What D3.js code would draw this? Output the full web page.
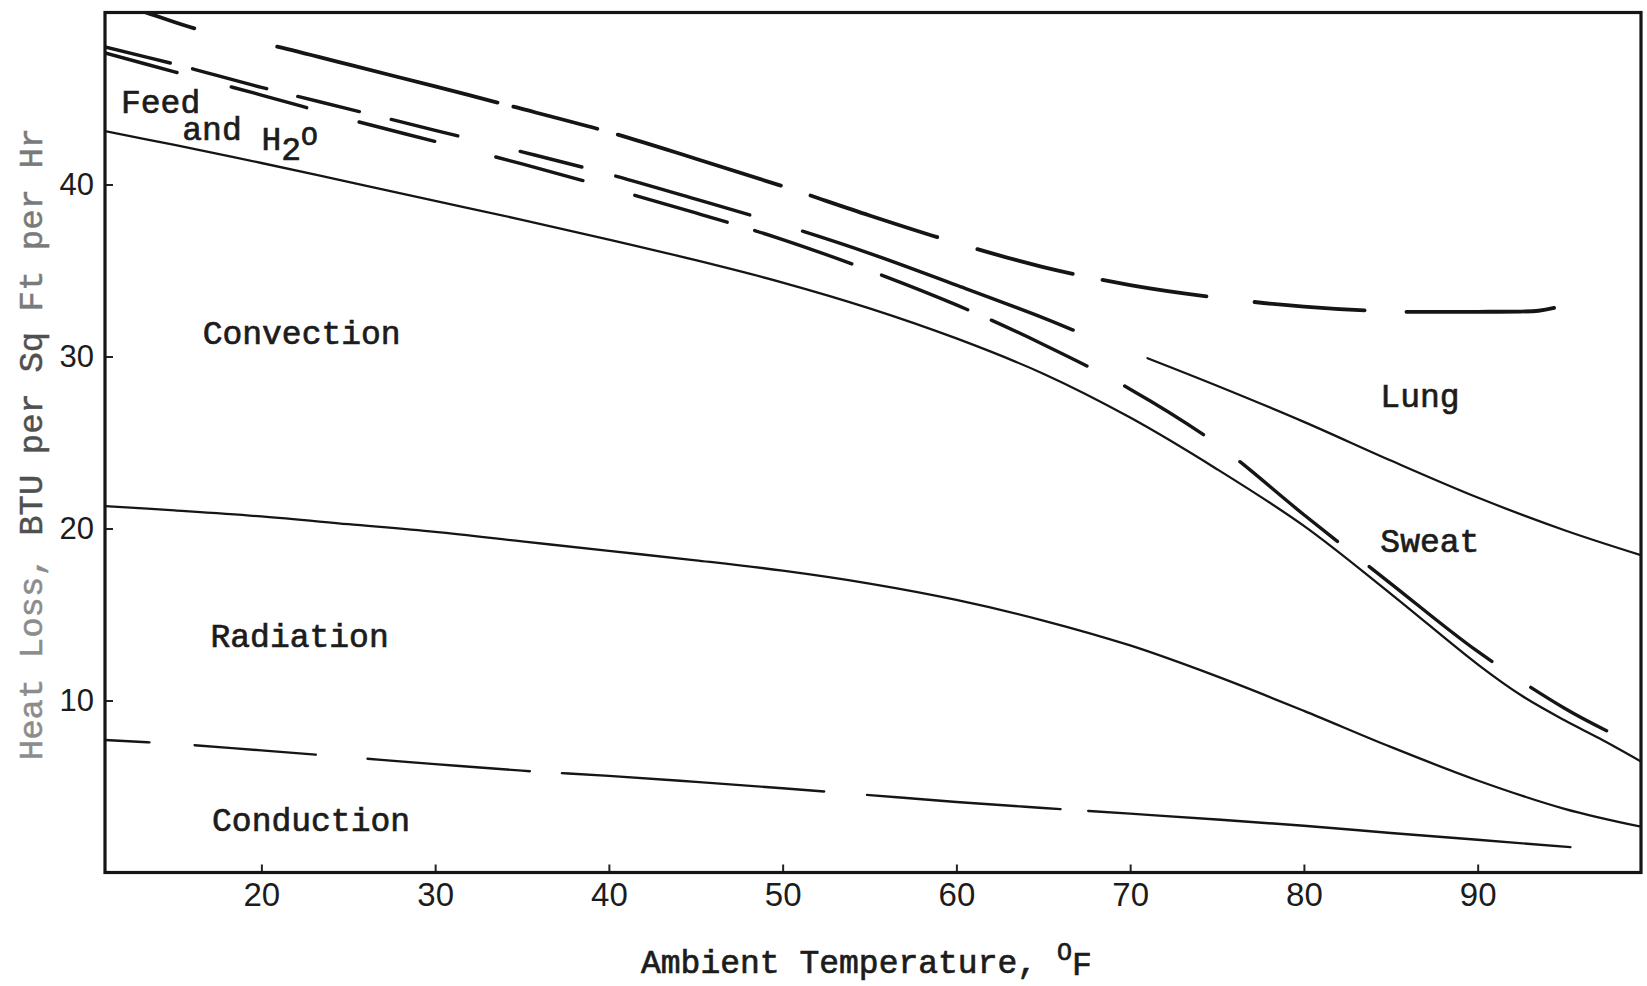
<!DOCTYPE html>
<html>
<head>
<meta charset="utf-8">
<script src="https://cdn.jsdelivr.net/npm/d3@7"></script>
<style>
  html, body { margin: 0; padding: 0; background: #ffffff; }
  svg { display: block; }
  .type { font-family: "Liberation Mono", "Courier New", monospace; fill: #1c1c1c; stroke: #1c1c1c; stroke-width: 0.7px; }
  .tick text { font-family: "Liberation Sans", Arial, sans-serif; fill: #1c1c1c; }
</style>
</head>
<body>
<svg id="chart" width="1647" height="986"></svg>
<script>
// Heat loss components (BTU per sq ft per hr) against ambient temperature (°F).
// Each boundary curve is the cumulative heat loss up to and including that component.

// Total heat loss (upper edge of the Lung band)
const tempTotal = [11, 13.43, 16.25, 20.8, 25, 30, 34.4, 40, 45, 50, 55, 60, 65, 70, 75, 80, 85, 90, 93.5, 94.5];
const lossTotal = [50.8, 49.98, 49.05, 48.04, 46.98, 45.7, 44.55, 43.05, 41.5, 39.9, 38.2, 36.6, 35.2, 34.15, 33.42, 32.9, 32.62, 32.6, 32.66, 32.85];

// Upper edge of the Sweat band (drawn dashed at low temperatures, solid above 70 °F)
const tempSweatLow = [11, 15, 20, 25, 30, 35, 40, 45, 50, 55, 60, 65, 66.8];
const lossSweatLow = [48.0, 47.0, 45.65, 44.4, 43.15, 41.9, 40.6, 39.15, 37.65, 36.0, 34.15, 32.25, 31.5];
const tempSweatHigh = [71, 75, 80, 85, 90, 95, 99.4];
const lossSweatHigh = [29.9, 28.3, 26.2, 23.95, 21.8, 19.9, 18.45];

// Upper edge of the Feed and H2O band
const tempFeedTop = [11, 15, 20, 25, 30, 35, 40, 45, 50, 55, 60, 65, 70, 75, 80, 85, 90, 95, 97.5];
const lossFeedTop = [47.65, 46.55, 45.2, 43.8, 42.5, 41.2, 39.8, 38.35, 36.8, 35.0, 33.0, 30.7, 28.1, 24.9, 20.8, 16.8, 12.85, 9.55, 8.2];

// Upper edge of the Convection band
const tempConvTop = [11, 15, 20, 25, 30, 35, 40, 45, 50, 55, 60, 65, 70, 75, 80, 85, 90, 92.5, 95, 97, 99.4];
const lossConvTop = [43.1, 42.3, 41.25, 40.15, 39.05, 37.95, 36.8, 35.6, 34.3, 32.8, 31.05, 29.0, 26.45, 23.45, 20.15, 16.2, 12.1, 10.3, 8.85, 7.8, 6.45];

// Upper edge of the Radiation band
const tempRadTop = [11, 15, 20, 25, 30, 35, 40, 45, 50, 55, 60, 65, 70, 75, 80, 85, 90, 95, 99.4];
const lossRadTop = [21.3, 21.05, 20.7, 20.25, 19.8, 19.25, 18.7, 18.15, 17.55, 16.8, 15.85, 14.65, 13.2, 11.4, 9.4, 7.3, 5.35, 3.7, 2.66];

// Upper edge of the Conduction band
const tempCond = [11, 15, 20, 25, 30, 35, 40, 45, 50, 55, 60, 65, 70, 75, 80, 85, 90, 95.4];
const lossCond = [7.7, 7.48, 7.1, 6.7, 6.3, 5.92, 5.62, 5.27, 4.9, 4.5, 4.1, 3.75, 3.42, 3.08, 2.72, 2.3, 1.9, 1.47];

// Axis ticks
const xTickValues = [20, 30, 40, 50, 60, 70, 80, 90];
const yTickValues = [10, 20, 30, 40];

// ---------------------------------------------------------------------------
const svg = d3.select("#chart");

const x = d3.scaleLinear().domain([11, 99.4]).range([105, 1641]);
const y = d3.scaleLinear().domain([0, 50]).range([872.5, 12.5]);

const [x0, x1] = x.range();
const [y0, y1] = [y.range()[1], y.range()[0]];

svg.append("defs").append("clipPath").attr("id", "plot-clip")
  .append("rect")
  .attr("x", x0).attr("y", y0)
  .attr("width", x1 - x0).attr("height", y1 - y0);

const pairs = (ts, vs) => ts.map((t, i) => [t, vs[i]]);
const line = d3.line()
  .x(d => x(d[0]))
  .y(d => y(d[1]))
  .curve(d3.curveCatmullRom.alpha(0.5));

// Pen strokes of each dashed curve, as temperature intervals along the curve
const penStrokes = {
  total: [[11, 16.25], [20.8, 33.7], [34.4, 39.43], [40.4, 50.0], [51.5, 59.0], [61.1, 66.8], [68.3, 74.5], [77.05, 83.6], [85.8, 94.5]],
  sweatLow: [[11, 14.84], [15.95, 20.4], [22.0, 25.73], [27.38, 31.4], [34.8, 38.54], [40.3, 48.2], [51.05, 66.8]],
  feedTop: [[11, 15.24], [18.17, 22.7], [25.53, 30.07], [33.4, 38.6], [41.4, 46.9], [48.3, 54.07], [55.6, 60.74], [61.92, 67.6], [69.6, 74.3], [76.24, 82.0], [83.68, 90.9], [92.96, 97.5]],
  cond: [[11, 13.63], [16.09, 23.2], [26.04, 35.52], [37.23, 52.46], [54.79, 66.06], [67.52, 95.4]]
};

// Convert temperature intervals into a stroke-dasharray along the drawn path
function applyStrokes(path, spans, width) {
  const node = path.node();
  const total = node.getTotalLength();
  const lenAt = px => {
    let lo = 0, hi = total;
    for (let i = 0; i < 40; i++) {
      const mid = (lo + hi) / 2;
      if (node.getPointAtLength(mid).x < px) lo = mid; else hi = mid;
    }
    return (lo + hi) / 2;
  };
  const cap = width / 2;
  const segs = spans.map(([a, b]) => {
    let la = lenAt(x(a)), lb = lenAt(x(b));
    if (la > 1) la += cap;
    lb = Math.max(la + 1, lb - cap);
    return [la, lb];
  });
  const arr = [];
  segs.forEach(([la, lb], i) => {
    arr.push(lb - la);
    const next = segs[i + 1];
    arr.push(next ? next[0] - lb : total * 2 + segs[0][0]);
  });
  path.attr("stroke-dasharray", arr.map(v => v.toFixed(2)).join(","))
      .attr("stroke-dashoffset", (-segs[0][0]).toFixed(2));
}

const curves = svg.append("g").attr("clip-path", "url(#plot-clip)")
  .attr("fill", "none").attr("stroke", "#151515").attr("stroke-linecap", "round");

function drawCurve(ts, vs, width, spans) {
  const p = curves.append("path")
    .datum(pairs(ts, vs))
    .attr("d", line)
    .attr("stroke-width", width);
  if (spans) applyStrokes(p, spans, width);
  return p;
}

drawCurve(tempCond, lossCond, 2.4, penStrokes.cond);
drawCurve(tempRadTop, lossRadTop, 2.3);
drawCurve(tempConvTop, lossConvTop, 2.3);
drawCurve(tempFeedTop, lossFeedTop, 3.4, penStrokes.feedTop);
drawCurve(tempSweatLow, lossSweatLow, 3.4, penStrokes.sweatLow);
drawCurve(tempSweatHigh, lossSweatHigh, 2.3);
drawCurve(tempTotal, lossTotal, 3.8, penStrokes.total);

// Axes and frame
const xAxis = d3.axisBottom(x).tickValues(xTickValues).tickSizeInner(-8).tickSizeOuter(0).tickPadding(10);
const yAxis = d3.axisLeft(y).tickValues(yTickValues).tickSizeInner(-8).tickSizeOuter(0).tickPadding(11);

svg.append("g").attr("transform", `translate(0,${y1})`).call(xAxis)
  .call(g => g.select(".domain").remove())
  .call(g => g.selectAll(".tick line").attr("stroke", "#222").attr("stroke-width", 2))
  .call(g => g.selectAll(".tick text").attr("font-size", 33));

svg.append("g").attr("transform", `translate(${x0},0)`).call(yAxis)
  .call(g => g.select(".domain").remove())
  .call(g => g.selectAll(".tick line").attr("stroke", "#222").attr("stroke-width", 2))
  .call(g => g.selectAll(".tick text").attr("font-size", 31));

svg.append("rect")
  .attr("x", x0).attr("y", y0)
  .attr("width", x1 - x0).attr("height", y1 - y0)
  .attr("fill", "none").attr("stroke", "#151515").attr("stroke-width", 3.2);

// Band labels, anchored in data units
const labels = svg.append("g").attr("class", "type").attr("font-size", 33);
const bandLabels = [
  { text: "Convection", t: 16.62, v: 30.73 },
  { text: "Radiation", t: 17.07, v: 13.11 },
  { text: "Conduction", t: 17.16, v: 2.41 },
  { text: "Lung", t: 84.4, v: 27.08 },
  { text: "Sweat", t: 84.4, v: 18.65 },
  { text: "Feed", t: 11.92, v: 44.15 },
  { text: "and", t: 15.45, v: 42.6 }
];
bandLabels.forEach(d => {
  labels.append("text").attr("x", x(d.t)).attr("y", y(d.v)).text(d.text);
});
const h2o = labels.append("text").attr("x", x(20.0)).attr("y", y(42.0));
h2o.append("tspan").text("H");
h2o.append("tspan").attr("dy", 10).text("2");
h2o.append("tspan").attr("dy", -15).attr("font-size", 28).text("O");

// Axis titles
const xTitle = svg.append("text").attr("class", "type").attr("font-size", 33)
  .attr("x", 641).attr("y", 973);
xTitle.append("tspan").text("Ambient Temperature, ");
xTitle.append("tspan").attr("dy", -13).attr("font-size", 25).text("O");
xTitle.append("tspan").attr("dy", 15).text("F");

const yTitle = svg.append("text").attr("class", "type").attr("font-size", 34)
  .attr("text-anchor", "middle")
  .attr("transform", "translate(42,444) rotate(-90)")
  .style("stroke-width", "0.5px");
yTitle.append("tspan").attr("fill", "#8c8c8c").attr("stroke", "#8c8c8c").text("Heat Loss,");
yTitle.append("tspan").attr("fill", "#505050").attr("stroke", "#505050").text(" BTU per Sq");
yTitle.append("tspan").attr("fill", "#7a7a7a").attr("stroke", "#7a7a7a").text(" Ft per Hr");
</script>
</body>
</html>
